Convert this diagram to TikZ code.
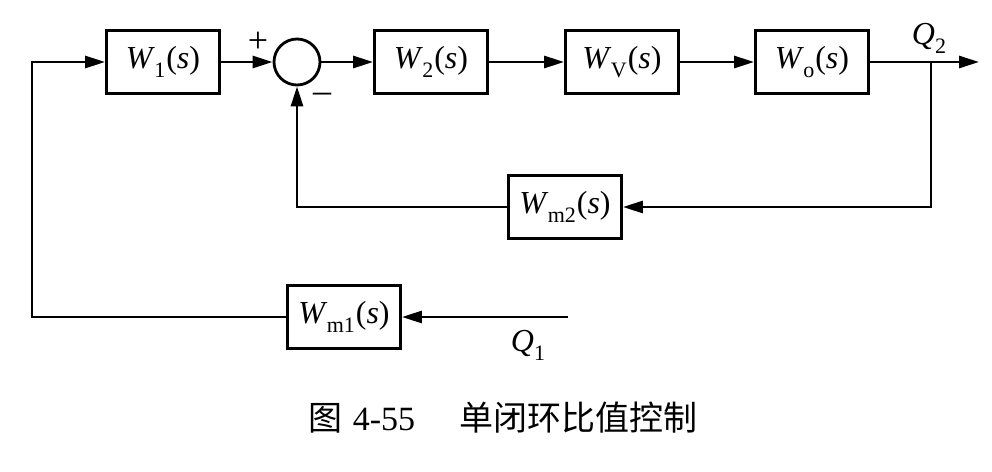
\documentclass[tikz,border=0pt]{standalone}
\usepackage{fontspec}
\setmainfont{Liberation Serif}
\newfontfamily\cjk{Noto Sans CJK SC}
\newfontfamily\digits{Liberation Serif}
\usetikzlibrary{arrows.meta}
\newcommand\tfw[1]{\textit{W}\kern-0.02em\raisebox{-0.28em}{\fontsize{22}{22}\selectfont #1}\kern0.03em(\textit{s})}
\newcommand\qsig[1]{\textit{Q}\raisebox{-0.28em}{\fontsize{22}{22}\selectfont #1}}
\tikzset{
  blk/.style={draw, line width=2.8pt, minimum width=113pt, minimum height=63pt, inner sep=0pt, font=\fontsize{32}{38}\selectfont},
  sumc/.style={draw, circle, line width=2.8pt, minimum size=46pt, inner sep=0pt},
  conn/.style={line width=2.8pt},
  arr/.style={conn, -{Triangle[length=20pt,width=12pt]}},
  lbl/.style={inner sep=0pt, font=\fontsize{32}{38}\selectfont}
}
\begin{document}
\begin{tikzpicture}[x=1pt,y=-1pt]
\useasboundingbox (0,0) rectangle (992,471);
\node[blk] (w1) at (163,62) {\tfw{1}};
\node[sumc] (sum) at (297,62) {};
\node[blk] (w2) at (431,62) {\tfw{2}};
\node[blk] (wv) at (622,62) {\tfw{V}};
\node[blk] (wo) at (812,62) {\tfw{o}};
\node[blk] (wm2) at (565,207) {\tfw{m2}};
\node[blk] (wm1) at (344,317) {\tfw{m1}};
\coordinate (out) at (979,62);
\coordinate (br) at (931,62);
\coordinate (brd) at (931,207);
\coordinate (fbl) at (297,207);
\coordinate (q1in) at (568,317);
\coordinate (ll) at (32,317);
\coordinate (lu) at (32,62);
\node[lbl] (q2t) at (929,38) {\qsig{2}};
\node[lbl] (q1t) at (528,345) {\qsig{1}};
\node[lbl, font=\fontsize{36}{40}\selectfont] (plus) at (258,42) {+};
\node[lbl, font=\fontsize{36}{40}\selectfont] (minus) at (322,98) {\textendash};
\draw[arr] (w1.east) -- (sum.west);
\draw[arr] (sum.east) -- (w2.west);
\draw[arr] (w2.east) -- (wv.west);
\draw[arr] (wv.east) -- (wo.west);
\draw[arr] (wo.east) -- (out);
\draw[arr] (br) -- (brd) -- (wm2.east);
\draw[arr] (wm2.west) -- (fbl) -- (sum.south);
\draw[arr] (q1in) -- (wm1.east);
\draw[arr] (wm1.west) -- (ll) -- (lu) -- (w1.west);
\node[inner sep=0pt, font=\fontsize{34}{40}\selectfont] (cap) at (503,418) {{\cjk 图}\hspace{0.3em}{\digits 4-55}\hspace{1.3em}{\cjk 单闭环比值控制}};
\end{tikzpicture}
\end{document}
